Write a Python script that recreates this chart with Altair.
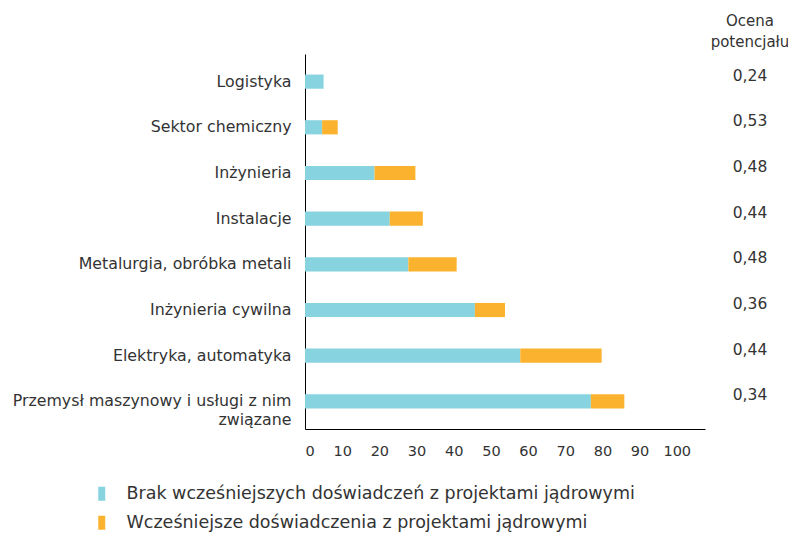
import altair as alt
import pandas as pd

categories = [
    "Logistyka",
    "Sektor chemiczny",
    "Inżynieria",
    "Instalacje",
    "Metalurgia, obróbka metali",
    "Inżynieria cywilna",
    "Elektryka, automatyka",
    "Przemysł maszynowy i usługi z nim związane",
]
no_experience = [5, 4.6, 18.7, 22.8, 27.8, 45.7, 57.9, 76.9]
experience = [0, 4.2, 11, 8.9, 13, 8.1, 21.9, 9]
scores = ["0,24", "0,53", "0,48", "0,44", "0,48", "0,36", "0,44", "0,34"]
series = [
    "Brak wcześniejszych doświadczeń z projektami jądrowymi",
    "Wcześniejsze doświadczenia z projektami jądrowymi",
]
colors = ["#87D3E0", "#FBB32F"]
x_ticks = [0, 10, 20, 30, 40, 50, 60, 70, 80, 90, 100]

rows = []
for c, a, b in zip(categories, no_experience, experience):
    rows.append({"cat": c, "series": series[0], "value": a, "ord": 0})
    rows.append({"cat": c, "series": series[1], "value": b, "ord": 1})
df = pd.DataFrame(rows)
score_df = pd.DataFrame({"cat": categories, "score": scores})
title_df = pd.DataFrame({"t": ["Ocena\npotencjału"]})

FONT = "DejaVu Sans"
TXT = "#333333"
FS = 14.5

y_enc = alt.Y(
    "cat:N",
    sort=categories,
    scale=alt.Scale(paddingInner=0.69, paddingOuter=0.45),
    axis=alt.Axis(
        title=None,
        ticks=False,
        domainColor="#000000",
        labelFontSize=15.8,
        labelColor=TXT,
        labelFont=FONT,
        labelPadding=14,
        labelLimit=400,
        labelLineHeight=19,
        labelExpr="datum.value == 'Przemysł maszynowy i usługi z nim związane' ? ['Przemysł maszynowy i usługi z nim', 'związane'] : datum.value",
    ),
)

bars = alt.Chart(df).mark_bar().encode(
    x=alt.X(
        "value:Q",
        stack="zero",
        scale=alt.Scale(domain=[0, 107.6], nice=False),
        axis=alt.Axis(
            title=None,
            values=x_ticks,
            ticks=False,
            grid=False,
            domainColor="#000000",
            labelFontSize=FS,
            labelColor=TXT,
            labelFont=FONT,
            labelPadding=15,
        ),
    ),
    y=y_enc,
    color=alt.Color(
        "series:N",
        sort=series,
        scale=alt.Scale(domain=series, range=colors),
        legend=alt.Legend(
            title=None,
            orient="none",
            legendX=-212,
            legendY=431,
            direction="vertical",
            symbolType="M-0.5,-1H0.5V1H-0.5Z",
            symbolSize=196,
            symbolStrokeWidth=0,
            labelFontSize=17.5,
            labelFont=FONT,
            labelColor=TXT,
            labelOffset=16,
            rowPadding=10,
            labelLimit=700,
        ),
    ),
    order=alt.Order("ord:Q"),
)

score_text = alt.Chart(score_df).mark_text(
    fontSize=15.5, font=FONT, color=TXT, align="center", dy=-6
).encode(
    y=alt.Y("cat:N", sort=categories),
    x=alt.value(445),
    text="score:N",
)

title_text = alt.Chart(title_df).mark_text(
    fontSize=15, font=FONT, color=TXT, align="center", baseline="middle",
    lineBreak="\n", lineHeight=21,
).encode(
    x=alt.value(445),
    y=alt.value(-33),
    text="t:N",
)

chart = (
    alt.layer(bars, score_text, title_text)
    .properties(
        width=400,
        height=375,
        autosize=alt.AutoSizeParams(type="none"),
        padding={"left": 297, "top": 46, "right": 83, "bottom": 106},
    )
    .configure(font=FONT)
    .configure_view(strokeWidth=0, stroke="transparent")
)

chart.save("out.html", embed_options={"renderer": "svg", "actions": False})
